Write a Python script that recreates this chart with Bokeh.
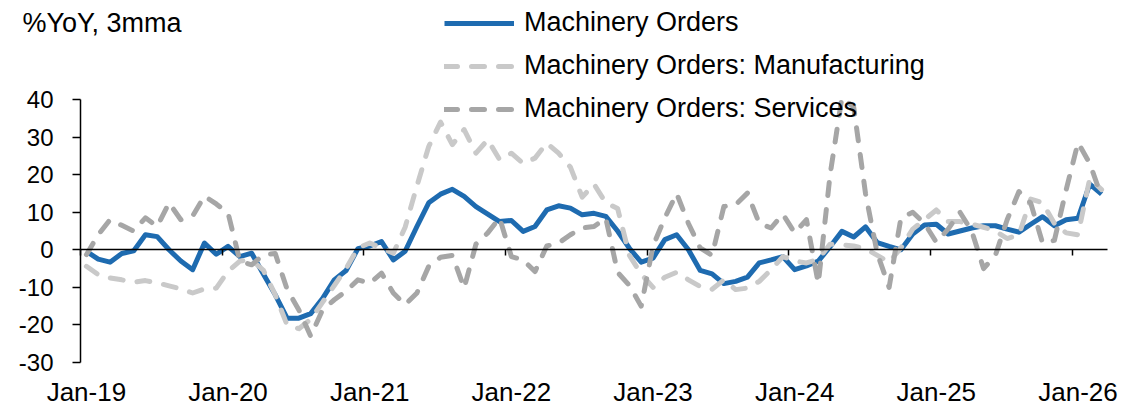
from bokeh.plotting import figure
from bokeh.models import Range1d, FixedTicker, Legend, LegendItem, Label, LinearAxis
from bokeh.embed import file_html
from bokeh.resources import INLINE

# Monthly data, Jan-2019 .. Mar-2026 (87 months), %YoY 3mma
orders = [-0.4, -2.5, -3.3, -1.0, -0.3, 4.0, 3.5, 0.0, -3.0, -5.3, 1.8, -1.2,
          0.9, -1.8, -0.9, -6.5, -12.0, -18.2, -18.2, -17.0, -13.0, -8.0, -5.5, 0.3,
          1.0, 2.2, -2.7, -0.4, 6.2, 12.5, 14.8, 16.1, 14.2, 11.5, 9.5, 7.5,
          7.8, 4.9, 6.2, 10.6, 11.7, 11.1, 9.3, 9.7, 8.9, 5.0, 0.4, -3.3,
          -2.2, 2.7, 4.0, 0.0, -5.5, -6.4, -9.0, -8.4, -7.3, -3.5, -2.7, -1.8,
          -5.3, -4.3, -3.0, 0.8, 4.9, 3.4, 6.1, 1.9, 0.9, 0.0, 4.2, 6.6,
          6.8, 4.2, 5.0, 5.8, 6.4, 6.4, 5.5, 4.7, 6.8, 8.8, 6.4, 8.0,
          8.4, 17.5, 14.8]
manufacturing = [-4.4, -6.6, -7.5, -8.0, -8.6, -8.2, -8.8, -9.6, -10.4, -11.5, -10.4, -10.2,
                 -5.7, -3.0, -2.7, -5.5, -12.0, -20.0, -21.0, -18.5, -14.0, -9.5, -5.0, 0.5,
                 1.8, 0.5, -0.9, 6.0, 17.0, 27.5, 34.0, 28.0, 32.0, 25.7, 29.3, 24.0,
                 25.7, 23.0, 24.4, 28.4, 25.7, 22.0, 14.0, 17.5, 12.5, 11.0, -1.5, -6.5,
                 -10.0, -7.3, -6.0, -8.0, -9.8, -10.5, -8.0, -10.6, -10.2, -8.4, -5.3, -1.8,
                 -3.0, -3.5, -2.5, 1.5, 1.3, 1.0, 0.3, -1.5, -3.3, 0.5, 5.5, 8.0,
                 10.6, 7.5, 7.5, 6.8, 6.0, 5.0, 3.0, 4.0, 13.5, 12.5, 7.0, 4.5,
                 4.0, 19.0, 16.0]
services = [-1.3, 4.0, 8.0, 6.5, 5.0, 8.5, 6.2, 12.5, 8.0, 9.0, 14.3, 12.2,
            9.8, -3.0, -4.0, -1.3, -1.0, -10.5, -16.0, -23.0, -16.0, -13.3, -11.0, -8.0,
            -8.9, -6.2, -11.5, -14.6, -11.5, -4.4, -2.0, -1.5, -10.2, 1.5, 4.5, 8.5,
            -1.8, -2.7, -5.8, 1.0, 1.8, 4.0, 5.8, 6.2, 8.4, -6.0, -9.5, -15.0,
            1.0, 8.5, 15.0, 7.0, 0.5, -1.5, 11.5, 12.0, 15.1, 7.0, 5.8, 9.5,
            4.5, 8.0, -9.0, 20.0, 40.5, 38.0, 15.0, -1.0, -10.0, 8.5, 10.0, 7.0,
            2.0, 5.5, 10.0, 5.0, -5.0, -1.5, 8.0, 15.5, 12.4, 1.8, 2.5, 16.0,
            28.5, 23.0, 14.0]
tick_labels = ["Jan-19", "Jan-20", "Jan-21", "Jan-22", "Jan-23", "Jan-24", "Jan-25", "Jan-26"]
y_ticks = [-30, -20, -10, 0, 10, 20, 30, 40]

n = len(orders)
x = [m + 0.5 for m in range(n)]                                # category centres
year_bounds = [12 * i for i in range(len(tick_labels))]         # tick marks on zero line
label_pos = [12 * i + 0.5 for i in range(len(tick_labels))]     # label positions

BLUE = "#1E6BB0"
LGRAY = "#C9C9C9"
DGRAY = "#A6A6A6"
FONT = "Liberation Sans"

W, H = 1122, 408
# frame fills the whole canvas; plot area (0..n, -30..40) sits at canvas x 80..1107, y 99..362
left, right, top, bottom = 80, 1107, 99, 362
xs = (right - left) / n
ys = (bottom - top) / 70.0
x_range = Range1d(-left / xs, n + (W - right) / xs)
y_range = Range1d(-30 - (H - bottom) / ys, 40 + top / ys)

p = figure(width=W, height=H, output_backend="svg", toolbar_location=None,
           x_range=x_range, y_range=y_range, min_border=0)
p.grid.visible = False
p.outline_line_color = None
p.background_fill_color = "white"

r1 = p.line(x, orders, line_color=BLUE, line_width=5, line_join="round")
r2 = p.line(x, manufacturing, line_color=LGRAY, line_width=5, line_dash="13 14",
            line_cap="round", line_join="round")
r3 = p.line(x, services, line_color=DGRAY, line_width=5, line_dash="13 14",
            line_cap="round", line_join="round")

# x axis labels (low position)
xa = p.xaxis[0]
xa.fixed_location = -30
xa.ticker = FixedTicker(ticks=label_pos)
xa.major_label_overrides = {pos: lab for pos, lab in zip(label_pos, tick_labels)}
xa.axis_line_color = None
xa.major_tick_line_color = None
xa.minor_tick_line_color = None
xa.major_label_standoff = 8
xa.major_label_text_font = FONT
xa.major_label_text_font_size = "26px"
xa.major_label_text_color = "black"

# zero line axis with year tick marks
za = LinearAxis(fixed_location=0, bounds=(0, n), ticker=FixedTicker(ticks=year_bounds),
                axis_line_color="black", axis_line_width=1.5,
                major_tick_line_color="black", major_tick_line_width=1.5,
                major_tick_in=0, major_tick_out=6, minor_tick_line_color=None,
                major_label_text_font_size="0px", major_label_text_alpha=0)
p.add_layout(za, "below")

ya = p.yaxis[0]
ya.fixed_location = 0
ya.bounds = (-30, 40)
ya.ticker = FixedTicker(ticks=y_ticks)
ya.major_label_overrides = {float(t): str(t) for t in y_ticks}
ya.axis_line_color = "black"
ya.axis_line_width = 1.5
ya.major_tick_line_color = "black"
ya.major_tick_line_width = 1.5
ya.major_tick_in = 0
ya.major_tick_out = 8
ya.minor_tick_line_color = None
ya.major_label_standoff = 19
ya.major_label_text_font = FONT
ya.major_label_text_font_size = "24px"
ya.major_label_text_color = "black"

legend = Legend(items=[LegendItem(label="Machinery Orders", renderers=[r1]),
                       LegendItem(label="Machinery Orders: Manufacturing", renderers=[r2]),
                       LegendItem(label="Machinery Orders: Services", renderers=[r3])],
                location=(444, 284), orientation="vertical",
                glyph_width=70, glyph_height=30, label_height=30, spacing=12,
                padding=0, margin=0, label_standoff=10,
                label_text_font=FONT, label_text_font_size="27px", label_text_color="black",
                border_line_color=None, background_fill_alpha=0)
p.add_layout(legend)

p.add_layout(Label(x=22, y=H - 22, x_units="screen", y_units="screen", text="%YoY, 3mma",
                   text_font=FONT, text_font_size="27px", text_color="black",
                   text_baseline="alphabetic", text_align="left"))

open("out.html", "w").write(file_html(p, INLINE))
